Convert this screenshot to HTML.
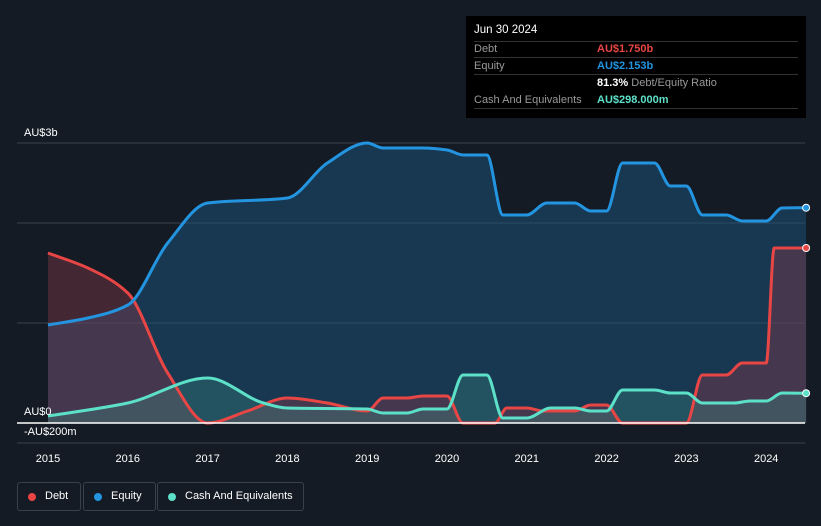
<!DOCTYPE html>
<html><head><meta charset="utf-8"><style>
body{margin:0;background:#151b24;font-family:"Liberation Sans",sans-serif;}
#wrap{position:relative;width:821px;height:526px;overflow:hidden;}
svg text{font-family:"Liberation Sans",sans-serif;}
</style></head><body>
<div id="wrap">
<svg id="c" width="821" height="526"></svg>
</div>
<script>
const years=[2015,2016,2017,2018,2019,2020,2021,2022,2023,2024];
const debtX=[2015,2015.5,2016,2016.5,2017,2017.5,2018,2018.5,2019,2019.2,2019.5,2019.7,2020,2020.2,2020.6,2020.75,2021,2021.2,2021.6,2021.8,2022,2022.2,2023,2023.2,2023.5,2023.7,2024,2024.1,2024.5];
const debtV=[1.7,1.55,1.3,0.5,0,0.12,0.25,0.2,0.12,0.25,0.25,0.27,0.27,0,0,0.15,0.15,0.12,0.12,0.18,0.18,0,0,0.48,0.48,0.6,0.6,1.75,1.75];
const eqX=[2015,2015.5,2016,2016.5,2017,2018,2018.5,2019,2019.2,2019.7,2020,2020.2,2020.5,2020.7,2021,2021.25,2021.6,2021.8,2022,2022.2,2022.6,2022.8,2023,2023.2,2023.5,2023.7,2024,2024.2,2024.5];
const eqV=[0.98,1.05,1.18,1.8,2.2,2.25,2.6,2.8,2.75,2.75,2.73,2.68,2.68,2.08,2.08,2.2,2.2,2.12,2.12,2.6,2.6,2.37,2.37,2.08,2.08,2.02,2.02,2.15,2.153];
const cashX=[2015,2016,2017,2017.7,2018,2019,2019.2,2019.5,2019.7,2020,2020.2,2020.5,2020.7,2021,2021.3,2021.6,2021.8,2022,2022.2,2022.6,2022.8,2023,2023.2,2023.6,2023.8,2024,2024.2,2024.5];
const cashV=[0.07,0.2,0.45,0.2,0.15,0.14,0.1,0.1,0.14,0.14,0.48,0.48,0.05,0.05,0.15,0.15,0.12,0.12,0.33,0.33,0.3,0.3,0.2,0.2,0.22,0.22,0.3,0.298];
const NS='http://www.w3.org/2000/svg';
const svg=document.getElementById('c');
const X=v=>48+(v-2015)*79.8;
const Y=v=>423-v*100;
function el(t,a,p){const e=document.createElementNS(NS,t);for(const k in a)e.setAttribute(k,a[k]);(p||svg).appendChild(e);return e;}
function txt(x,y,s,fill,size,anchor){const t=el('text',{x:x,y:y,fill:fill,'font-size':size,'text-anchor':anchor||'start'});t.textContent=s;return t;}
function monotone(px,py){
 const n=px.length,dx=[],m=[],t=[];
 for(let i=0;i<n-1;i++){dx[i]=px[i+1]-px[i];m[i]=(py[i+1]-py[i])/dx[i];}
 t[0]=m[0];t[n-1]=m[n-2];
 for(let i=1;i<n-1;i++){t[i]=(m[i-1]*m[i]<=0)?0:3*(dx[i-1]+dx[i])/((2*dx[i]+dx[i-1])/m[i-1]+(dx[i]+2*dx[i-1])/m[i]);}
 let d='M'+px[0].toFixed(1)+','+py[0].toFixed(1);
 for(let i=0;i<n-1;i++){const h=dx[i]/3;
  d+='C'+(px[i]+h).toFixed(1)+','+(py[i]+t[i]*h).toFixed(1)+' '+(px[i+1]-h).toFixed(1)+','+(py[i+1]-t[i+1]*h).toFixed(1)+' '+px[i+1].toFixed(1)+','+py[i+1].toFixed(1);}
 return d;
}
// grid
[[143,'top'],[223,'2b'],[323,'1b'],[443,'bottom']].forEach(g=>{const l=el('line',{x1:17,x2:805,y1:g[0],y2:g[0],stroke:'#3a404a','stroke-width':1});

});
const S=[[eqX,eqV,'#2394df','#1d5a8a',0.45,'equity'],[debtX,debtV,'#e84545','#8a3a4a',0.4,'debt'],[cashX,cashV,'#5de0c8','#3a8a80',0.35,'cash']];
const paths=S.map(s=>monotone(s[0].map(X),s[1].map(Y)));
S.forEach((s,i)=>{const xs=s[0];
 const a=el('path',{d:paths[i]+'L'+X(xs[xs.length-1])+',423L'+X(xs[0])+',423Z',fill:s[3],'fill-opacity':s[4]});
 
 });
[1,0,2].forEach(i=>{const s=S[i];
 const l=el('path',{d:paths[i],fill:'none',stroke:s[2],'stroke-width':3,'stroke-linejoin':'round'});
 
 });
const z=el('line',{x1:17,x2:805,y1:423,y2:423,stroke:'#fff','stroke-width':1.5});


S.forEach(s=>{const xs=s[0],vs=s[1];
 const c=el('circle',{cx:X(xs[xs.length-1]),cy:Y(vs[vs.length-1]),r:3.5,fill:s[2],stroke:'#fff','stroke-width':1});
 
 });
let t=txt(24,136,'AU$3b','#fff',11);
t=txt(24,415,'AU$0','#fff',11);
t=txt(24,435,'-AU$200m','#fff',11);
years.forEach(y=>{const e=txt(X(y),462,String(y),'#fff',11,'middle');

});
</script>
<div style="position:absolute;left:466px;top:16px;width:340px;height:102px;background:#000;font-size:11px;">
 <div style="position:absolute;left:8px;top:8px;color:#fff;font-size:11.5px">Jun 30 2024</div>
 <div style="position:absolute;left:8px;right:8px;top:25px;border-top:1px solid #333"></div>
 <div style="position:absolute;left:8px;right:8px;top:41px;border-top:1px solid #333"></div>
 <div style="position:absolute;left:8px;right:8px;top:58px;border-top:1px solid #333"></div>
 <div style="position:absolute;left:8px;right:8px;top:92px;border-top:1px solid #333"></div>
 <div style="position:absolute;left:8px;top:27px;color:#999">Debt</div>
 <div style="position:absolute;left:131px;top:27px;color:#e84545;font-weight:bold">AU$1.750b</div>
 <div style="position:absolute;left:8px;top:44px;color:#999">Equity</div>
 <div style="position:absolute;left:131px;top:44px;color:#2394df;font-weight:bold">AU$2.153b</div>
 <div style="position:absolute;left:131px;top:61px;color:#fff"><b>81.3%</b> <span style="color:#999">Debt/Equity Ratio</span></div>
 <div style="position:absolute;left:8px;top:78px;color:#999">Cash And Equivalents</div>
 <div style="position:absolute;left:131px;top:78px;color:#5de0c8;font-weight:bold">AU$298.000m</div>
</div>
<div style="position:absolute;left:17px;top:482px;font-size:11px;color:#fff">
 <div style="position:absolute;left:0;top:0;width:62px;height:27px;border:1px solid #3a404a;border-radius:3px"><span style="position:absolute;left:10px;top:10px;width:8px;height:8px;border-radius:50%;background:#e84545"></span><span style="position:absolute;left:27px;top:7px">Debt</span></div>
 <div style="position:absolute;left:66px;top:0;width:71px;height:27px;border:1px solid #3a404a;border-radius:3px"><span style="position:absolute;left:10px;top:10px;width:8px;height:8px;border-radius:50%;background:#2394df"></span><span style="position:absolute;left:27px;top:7px">Equity</span></div>
 <div style="position:absolute;left:140px;top:0;width:145px;height:27px;border:1px solid #3a404a;border-radius:3px"><span style="position:absolute;left:10px;top:10px;width:8px;height:8px;border-radius:50%;background:#5de0c8"></span><span style="position:absolute;left:27px;top:7px">Cash And Equivalents</span></div>
</div>
</body></html>
